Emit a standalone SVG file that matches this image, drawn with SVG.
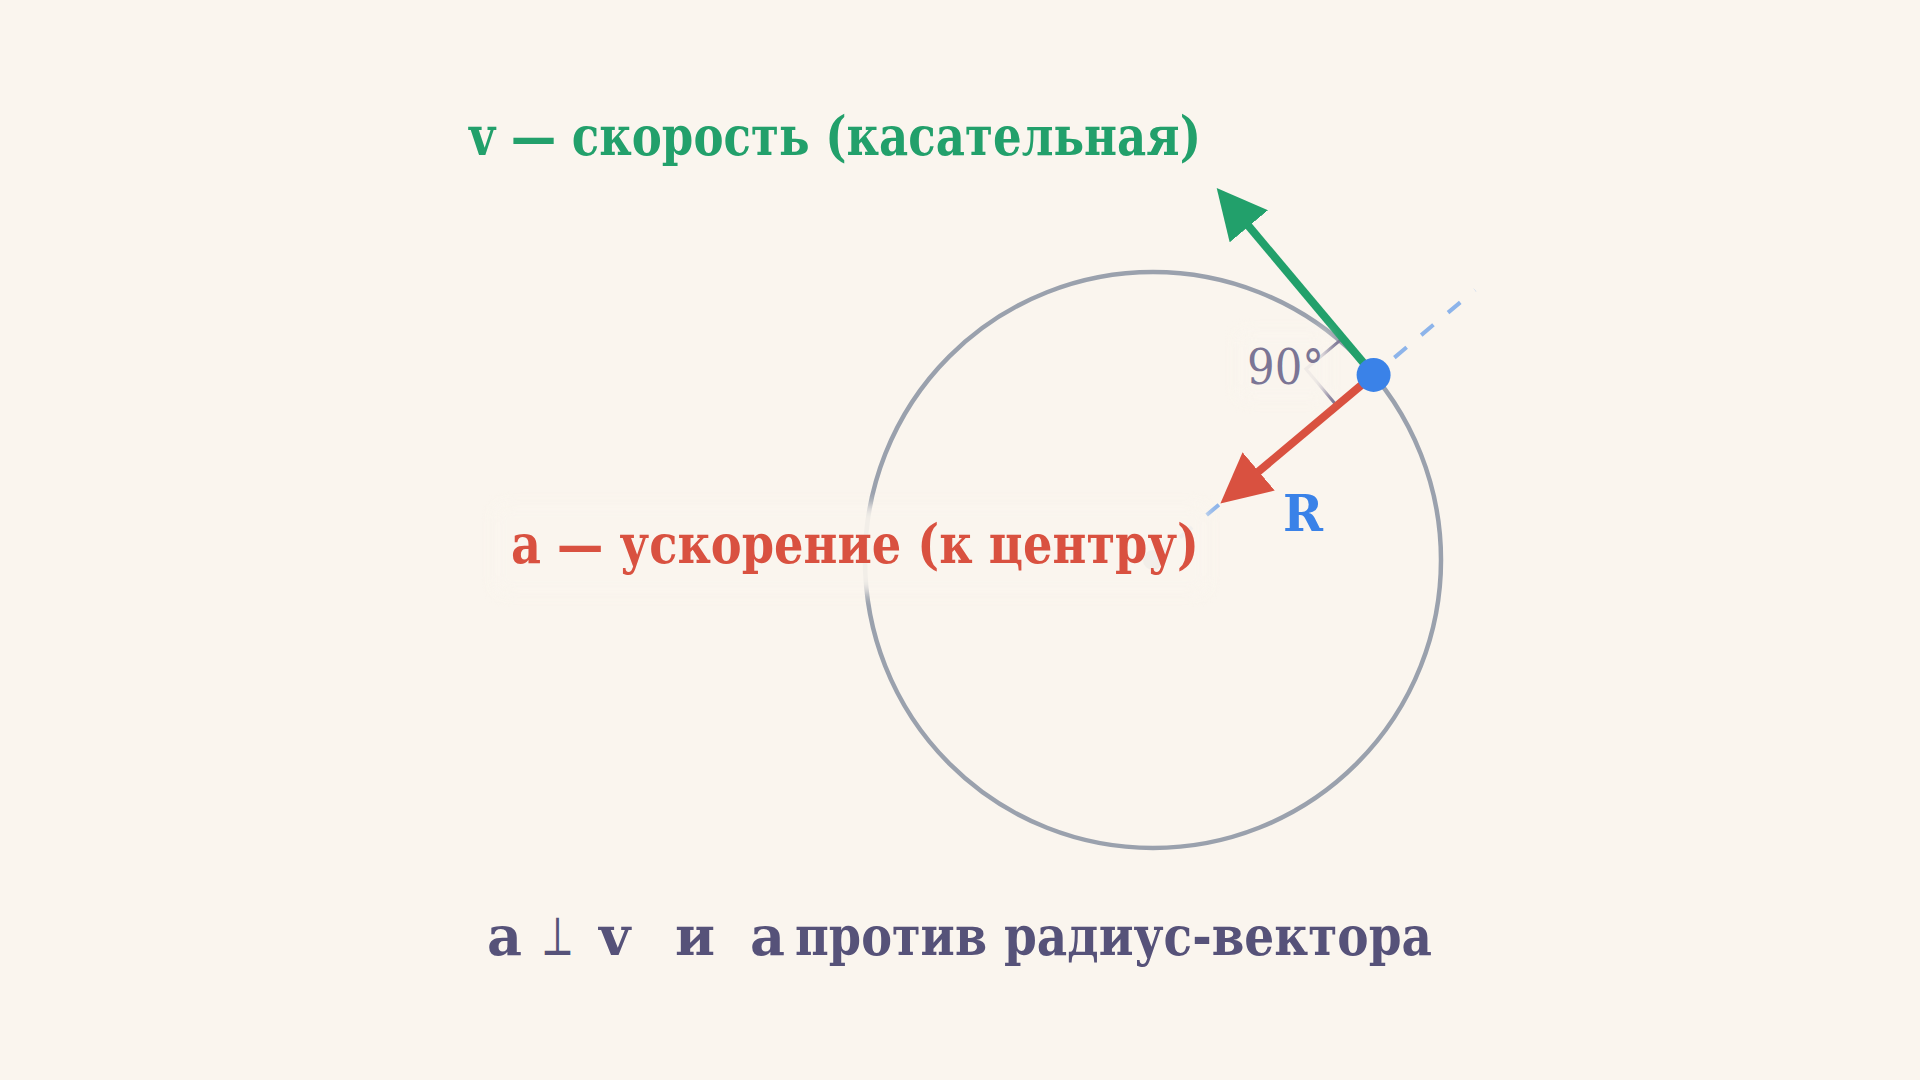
<svg xmlns="http://www.w3.org/2000/svg" width="1920" height="1080" viewBox="0 0 1920 1080">
  <defs>
    <style>
      .lbl { font-family: "DejaVu Serif", "Liberation Serif", serif; font-weight: bold; }
      .bg { fill: #faf5ee; opacity: 0.92; filter: url(#soft); }
    </style>
    <filter id="soft" filterUnits="userSpaceOnUse" x="0" y="0" width="1920" height="1080" color-interpolation-filters="sRGB">
      <feGaussianBlur stdDeviation="7"/>
    </filter>
    <marker id="headG" markerUnits="userSpaceOnUse" markerWidth="50" markerHeight="50" refX="10" refY="25" orient="auto">
      <path d="M0,0 L50,25 L0,50 Z" fill="#22a06b"/>
    </marker>
    <marker id="headR" markerUnits="userSpaceOnUse" markerWidth="50" markerHeight="50" refX="10" refY="25" orient="auto">
      <path d="M0,0 L50,25 L0,50 Z" fill="#d95140"/>
    </marker>
  </defs>
  <rect width="1920" height="1080" fill="#faf5ee"/>

  <g id="circle">
    <circle cx="1153" cy="560" r="288" fill="none" stroke="#9aa1ad" stroke-width="4.5"/>
    <circle cx="1153" cy="560" r="10" fill="#9aa1ad"/>
  </g>

  <g id="connectors">
    <line x1="1153" y1="560" x2="1475" y2="290" stroke="#8db4ea" stroke-width="4" stroke-dasharray="16 19" stroke-linecap="butt"/>
    <path id="right-angle" d="M1342.7,338.1 L1305.9,369 L1336.8,405.8" fill="none" stroke="#7b7595" stroke-width="3"/>
    <line id="velocity" x1="1373.6" y1="374.9" x2="1242.4" y2="218.6" stroke="#22a06b" stroke-width="8" marker-end="url(#headG)"/>
    <line id="accel" x1="1373.6" y1="374.9" x2="1251.0" y2="477.8" stroke="#d95140" stroke-width="8" marker-end="url(#headR)"/>
  </g>

  <g id="labels-bg">
    <rect class="bg" x="495" y="505" width="712" height="88" rx="10"/>
    <rect class="bg" x="1238" y="332" width="90" height="68" rx="8"/>
  </g>

  <g id="point">
    <circle cx="1373.6" cy="374.9" r="17" fill="#3a82e8"/>
  </g>

  <g id="label-v">
    <text class="lbl" x="469" y="155" font-size="54" fill="#22a06b" textLength="732" lengthAdjust="spacingAndGlyphs">v — скорость (касательная)</text>
  </g>
  <g id="label-a">
    <text class="lbl" x="511" y="563" font-size="54" fill="#d95140" textLength="688" lengthAdjust="spacingAndGlyphs">a — ускорение (к центру)</text>
  </g>
  <g id="label-R">
    <text class="lbl" x="1283" y="531" font-size="51" fill="#3a82e8" textLength="40" lengthAdjust="spacingAndGlyphs">R</text>
  </g>
  <g id="label-90">
    <text x="1247" y="384" font-family="DejaVu Serif, Liberation Serif, serif" font-size="48" fill="#7b7595" textLength="77" lengthAdjust="spacingAndGlyphs">90°</text>
  </g>
  <g id="caption">
    <text class="lbl" y="955" font-size="54" fill="#565279">
      <tspan x="487">a</tspan>
      <tspan x="541" font-weight="normal" textLength="33" lengthAdjust="spacingAndGlyphs">⊥</tspan>
      <tspan x="599">v</tspan>
      <tspan x="675">и</tspan>
      <tspan x="750">a</tspan>
      <tspan x="795" textLength="192" lengthAdjust="spacingAndGlyphs">против</tspan>
      <tspan x="1004" textLength="428" lengthAdjust="spacingAndGlyphs">радиус-вектора</tspan>
    </text>
  </g>
</svg>
